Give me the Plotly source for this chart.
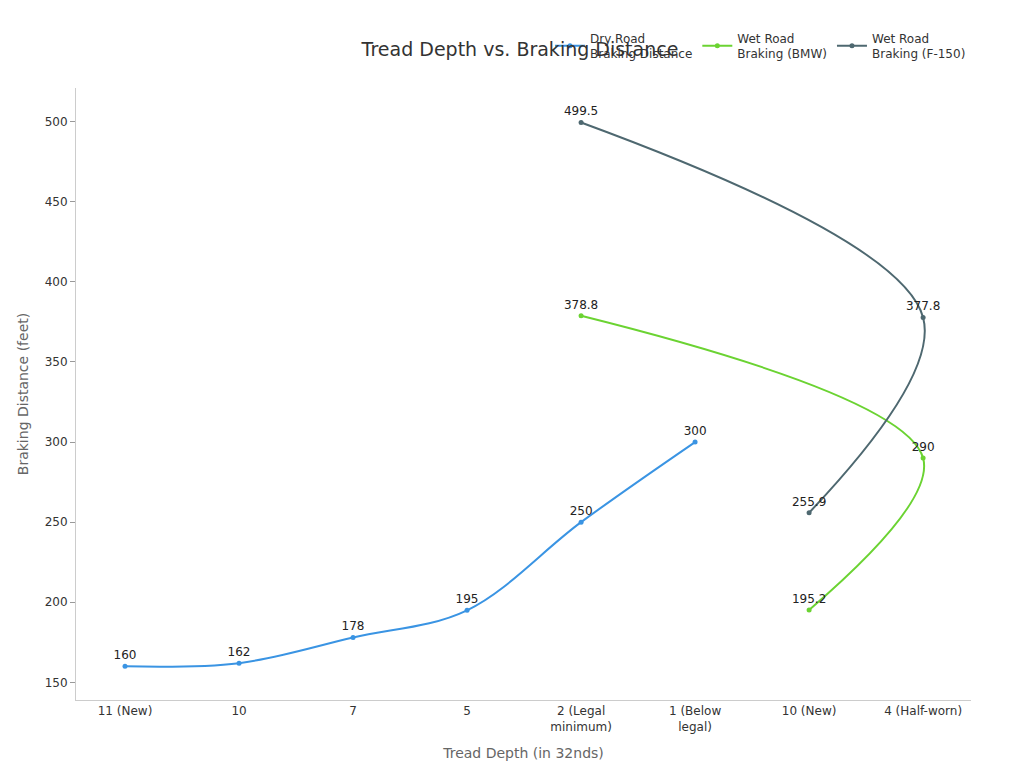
import plotly.graph_objects as go

categories = ['11 (New)', '10', '7', '5', '2 (Legal<br>minimum)', '1 (Below<br>legal)', '10 (New)', '4 (Half-worn)']

dry_x = ['11 (New)', '10', '7', '5', '2 (Legal<br>minimum)', '1 (Below<br>legal)']
dry_y = [160, 162, 178, 195, 250, 300]

bmw_x = ['10 (New)', '4 (Half-worn)', '2 (Legal<br>minimum)']
bmw_y = [195.2, 290, 378.8]

f150_x = ['10 (New)', '4 (Half-worn)', '2 (Legal<br>minimum)']
f150_y = [255.9, 377.8, 499.5]

fig = go.Figure()


def add_series(x, y, name, color):
    fig.add_trace(go.Scatter(x=x, y=y, name=name, mode='lines+markers+text',
                             line=dict(color=color, width=2, shape='spline'),
                             marker=dict(size=5, color=color),
                             text=[f'{v:g}' for v in y], textposition='top center',
                             textfont=dict(size=12, color='#222222')))


add_series(dry_x, dry_y, 'Dry Road<br>Braking Distance', '#3a94e3')
add_series(bmw_x, bmw_y, 'Wet Road<br>Braking (BMW)', '#6bd332')
add_series(f150_x, f150_y, 'Wet Road<br>Braking (F-150)', '#4e6870')

fig.update_layout(
    width=1024, height=768,
    paper_bgcolor='white', plot_bgcolor='white',
    font=dict(family='DejaVu Sans', size=12, color='#333333'),
    title=dict(text='Tread Depth vs. Braking Distance', x=0.5, y=0.955, xanchor='center',
               font=dict(size=19, color='#333333')),
    margin=dict(l=68, r=61, t=80, b=76, autoexpand=False),
    legend=dict(orientation='h', x=1.0, xanchor='right', y=1.105, yanchor='top',
                font=dict(size=12, color='#333333'), bgcolor='rgba(0,0,0,0)'),
    showlegend=True,
)
fig.update_xaxes(type='category', categoryorder='array', categoryarray=categories,
                 range=[-0.43, 7.42], showgrid=False, showline=True, linecolor='#cccccc',
                 ticks='', automargin=False,
                 title=dict(text='Tread Depth (in 32nds)', font=dict(size=14, color='#666666')),
                 tickfont=dict(size=12, color='#333333'))
fig.update_yaxes(range=[139, 521], showgrid=False, showline=True, linecolor='#cccccc',
                 ticks='outside', ticklen=5, tickcolor='#999999', zeroline=False, automargin=False,
                 tickvals=[150, 200, 250, 300, 350, 400, 450, 500],
                 title=dict(text='Braking Distance (feet)', font=dict(size=14, color='#666666'), standoff=12),
                 tickfont=dict(size=12, color='#333333'))

fig.write_html('out.html')
